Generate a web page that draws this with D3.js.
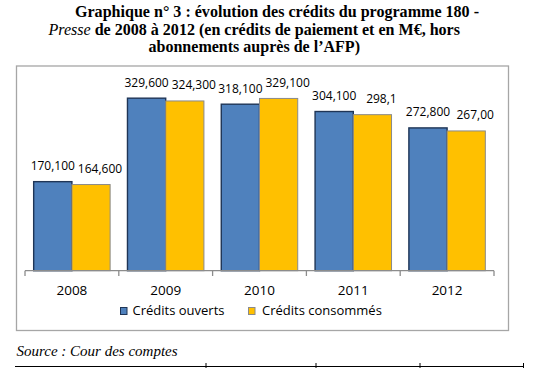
<!DOCTYPE html>
<html><head><meta charset="utf-8">
<script src="https://cdn.jsdelivr.net/npm/d3@7/dist/d3.min.js"></script>
<style>body{margin:0;background:#fff}svg{display:block}</style>
</head><body>
<svg id="c" width="543" height="368"></svg>
<script>
const years = ["2008","2009","2010","2011","2012"];
const seriesNames = ["Crédits ouverts","Crédits consommés"];
const ouverts = [170.1, 329.6, 318.1, 304.1, 272.8];
const consommes = [164.6, 324.3, 329.1, 298.1, 267.0];
const labelsOuverts = ["170,100","329,600","318,100","304,100","272,800"];
const labelsConsommes = ["164,600","324,300","329,100","298,1","267,00"];
const titleLines = ["Graphique n° 3 : évolution des crédits du programme 180 -",
  ["Presse"," de 2008 à 2012 (en crédits de paiement et en M€, hors"],
  "abonnements auprès de l’AFP)"];
const sourceText = "Source : Cour des comptes";

const svg = d3.select("#c");
const colors = ["#4f81bd","#ffc000"];
const strokes = ["#1f3556","#8a8a8a"];
const sansFont = "'Open Sans', Lato, sans-serif";
const serifFont = "'Liberation Serif','DejaVu Serif',serif";

// title
const t = svg.append("g").attr("font-family", serifFont).attr("font-weight","bold").attr("font-size",16).attr("fill","#000");
t.append("text").attr("x",75).attr("y",17).attr("textLength",404).attr("lengthAdjust","spacingAndGlyphs").text(titleLines[0]);
const t2 = t.append("text").attr("x",48.5).attr("y",34.5).attr("textLength",411.5).attr("lengthAdjust","spacingAndGlyphs");
t2.append("tspan").attr("font-style","italic").attr("font-weight","normal").text(titleLines[1][0]);
t2.append("tspan").text(titleLines[1][1]);
t.append("text").attr("x",148.5).attr("y",52).attr("textLength",211.5).attr("lengthAdjust","spacingAndGlyphs").text(titleLines[2]);

// frame
svg.append("rect").attr("x",16.5).attr("y",66).attr("width",492).attr("height",264.5)
  .attr("fill","none").attr("stroke","#a6a6a6").attr("stroke-width",1.3);

const x0 = d3.scaleBand().domain(years).range([25,494]).paddingInner(0.185).paddingOuter(0.0925);
const x1 = d3.scaleBand().domain([0,1]).range([0,x0.bandwidth()]);
const y = d3.scaleLinear().domain([0,350]).range([270.7,87.5]);

const series = [ouverts, consommes];
const labels = [labelsOuverts, labelsConsommes];
const labelDx = [0, 9];

series.forEach((vals, s) => {
  svg.append("g").selectAll("rect").data(vals).join("rect")
    .attr("x",(d,i)=>x0(years[i])+x1(s))
    .attr("y",d=>y(d))
    .attr("width",x1.bandwidth())
    .attr("height",d=>y(0)-y(d))
    .attr("fill",colors[s]).attr("stroke",strokes[s]).attr("stroke-width",s===0?1.4:1);
  svg.append("g").selectAll("text").data(vals).join("text")
    .attr("x",(d,i)=>x0(years[i])+x1(s)+x1.bandwidth()/2+labelDx[s])
    .attr("y",d=>y(d)-11.5)
    .attr("text-anchor","middle").attr("font-family",sansFont).attr("font-size",12).attr("fill","#000")
    .text((d,i)=>labels[s][i]);
});

// x axis
const xa = d3.scalePoint().domain(d3.range(years.length+1)).range([25,494]);
const axisG = svg.append("g").attr("stroke","#8c8c8c").attr("stroke-width",1.3);
axisG.append("line").attr("x1",25).attr("x2",494).attr("y1",270.7).attr("y2",270.7);
axisG.selectAll("line.tk").data(d3.range(years.length+1)).join("line").attr("class","tk")
  .attr("x1",d=>xa(d)).attr("x2",d=>xa(d)).attr("y1",270.7).attr("y2",276);
svg.append("g").selectAll("text").data(years).join("text")
  .attr("x",d=>x0(d)+x0.bandwidth()/2).attr("y",295)
  .attr("text-anchor","middle").attr("font-family",sansFont).attr("font-size",13.5).attr("fill","#000")
  .text(d=>d);

// legend
const legX = [120, 248];
const legTextX = [132.5, 262];
seriesNames.forEach((n,s)=>{
  svg.append("rect").attr("x",legX[s]+0.5).attr("y",307.5).attr("width",6.5).attr("height",7)
    .attr("fill",colors[s]).attr("stroke",strokes[s]).attr("stroke-width",1);
  svg.append("text").attr("x",legTextX[s]).attr("y",315).attr("font-family",sansFont).attr("font-size",13)
    .attr("fill","#000").text(n);
});

// source
svg.append("text").attr("x",16.5).attr("y",356).attr("font-family",serifFont).attr("font-style","italic")
  .attr("font-size",15).attr("fill","#000").text(sourceText);

// bottom table border
svg.append("line").attr("x1",15).attr("x2",524).attr("y1",366.5).attr("y2",366.5).attr("stroke","#000").attr("stroke-width",1.2);
svg.selectAll("line.bt").data([206,316,420,523.5]).join("line").attr("class","bt")
  .attr("x1",d=>d).attr("x2",d=>d).attr("y1",363).attr("y2",368).attr("stroke","#000").attr("stroke-width",1);
</script>
</body></html>
